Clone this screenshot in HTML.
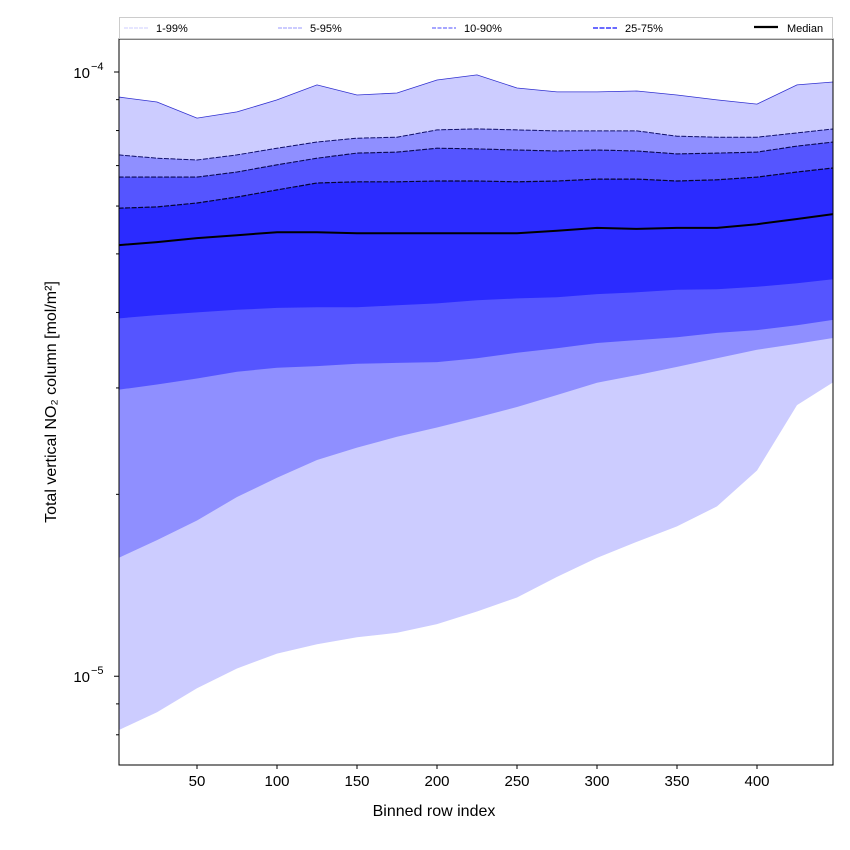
<!DOCTYPE html>
<html><head><meta charset="utf-8"><style>
html,body{margin:0;padding:0;background:#fff;}
svg{display:block;font-family:"Liberation Sans",DejaVu Sans,sans-serif;}
</style></head><body>
<svg id="chart" width="850" height="850" viewBox="0 0 850 850"></svg>
<script>
const rows = [1,25,50,75,100,125,150,175,200,225,250,275,300,325,350,375,400,425,448];
const p99 = [9.09,8.92,8.39,8.59,8.99,9.52,9.16,9.23,9.70,9.89,9.41,9.27,9.27,9.30,9.16,8.99,8.85,9.52,9.63];
const p95 = [7.29,7.20,7.15,7.29,7.48,7.66,7.77,7.80,8.02,8.05,8.02,7.99,7.99,7.99,7.83,7.80,7.80,7.93,8.05];
const p90 = [6.70,6.70,6.70,6.83,7.02,7.20,7.34,7.37,7.48,7.46,7.43,7.40,7.43,7.40,7.32,7.34,7.37,7.54,7.66];
const p75 = [5.95,5.98,6.07,6.21,6.38,6.55,6.58,6.58,6.60,6.60,6.58,6.60,6.65,6.65,6.60,6.63,6.70,6.83,6.94];
const median = [5.17,5.23,5.31,5.37,5.43,5.43,5.41,5.41,5.41,5.41,5.41,5.46,5.52,5.50,5.52,5.52,5.60,5.71,5.82];
const p25 = [3.91,3.96,4.00,4.04,4.07,4.08,4.08,4.11,4.14,4.19,4.22,4.24,4.29,4.32,4.36,4.37,4.41,4.47,4.54];
const p10 = [2.98,3.04,3.11,3.19,3.24,3.26,3.29,3.30,3.31,3.36,3.43,3.49,3.56,3.60,3.64,3.70,3.74,3.81,3.89];
const p5 = [1.57,1.68,1.81,1.98,2.13,2.28,2.39,2.49,2.58,2.68,2.79,2.92,3.06,3.15,3.25,3.36,3.47,3.55,3.63];
const p1 = [0.814,0.872,0.955,1.03,1.09,1.13,1.16,1.18,1.22,1.28,1.35,1.46,1.57,1.67,1.77,1.91,2.19,2.81,3.07];
const xTicks = [50,100,150,200,250,300,350,400];
const yMajor = [1,10];
const yMajorExp = ["\u22125","\u22124"];
const yMinor = [0.8,0.9,2,3,4,5,6,7,8,9];
const SCALE = 1e-5; // values above are in units of 1e-5 mol/m²

const L=119,R=833,T=39,B=765;
const xMin=1.25,xMax=447.5;
const yLo=Math.log10(0.713*SCALE), yHi=Math.log10(11.34*SCALE);
const X=v=>L+(v-xMin)/(xMax-xMin)*(R-L);
const Y=v=>B-(Math.log10(v*SCALE)-yLo)/(yHi-yLo)*(B-T);
const NS="http://www.w3.org/2000/svg";
const svg=document.getElementById('chart');
function mk(tag,attrs,parent){const e=document.createElementNS(NS,tag);for(const k in attrs)e.setAttribute(k,attrs[k]);(parent||svg).appendChild(e);return e;}
const clip=mk('clipPath',{id:'pc'});mk('rect',{x:L,y:T,width:R-L,height:B-T},clip);
const g=mk('g',{'clip-path':'url(#pc)'});


function band(lo,hi,color,name){
  let d='';rows.forEach((r,i)=>{d+=(i?'L':'M')+X(r).toFixed(1)+','+Y(hi[i]).toFixed(1);});
  for(let i=rows.length-1;i>=0;i--)d+='L'+X(rows[i]).toFixed(1)+','+Y(lo[i]).toFixed(1);
  const p=mk('path',{d:d+'Z',fill:color},g);
  
  
}
function line(arr,stroke,w,dash,name){
  let d='';rows.forEach((r,i)=>{d+=(i?'L':'M')+X(r).toFixed(1)+','+Y(arr[i]).toFixed(1);});
  const p=mk('path',{d:d,fill:'none',stroke:stroke,'stroke-width':w,'stroke-dasharray':dash},g);
  
  
}
band(p1,p99,'#ccccff','band-1-99');
band(p5,p95,'#8f8fff','band-5-95');
band(p10,p90,'#5555ff','band-10-90');
band(p25,p75,'#2b2bff','band-25-75');
line(p99,'#3030d0',0.8,'none','line-p99');
line(p95,'#10106a',1,'5,1.5','line-p95');
line(p90,'#0a0a50',1.1,'5,1.5','line-p90');
line(p75,'#050530',1.2,'5,1.5','line-p75');
line(median,'#000',2,'none','median-line');
const frame=mk('rect',{x:L,y:T,width:R-L,height:B-T,fill:'none',stroke:'#000','stroke-width':1});


xTicks.forEach(t=>{
  const x=X(t);
  const tk=mk('line',{x1:x,x2:x,y1:B,y2:B+4,stroke:'#000'});
  
  
  const tx=mk('text',{x:x,y:B+21,'text-anchor':'middle','font-size':15});
  tx.textContent=t;
  
  
});
yMinor.forEach(t=>{
  const y=Y(t);
  const tk=mk('line',{x1:L-3,x2:L,y1:y,y2:y,stroke:'#000'});
  
  
});
yMajor.forEach((t,i)=>{
  const y=Y(t);
  const tk=mk('line',{x1:L-5,x2:L,y1:y,y2:y,stroke:'#000'});
  
  
  const tx=mk('text',{x:L-29,y:y+6,'text-anchor':'end','font-size':15});
  tx.textContent='10';
  
  
  const sup=mk('text',{x:L-28,y:y-2,'text-anchor':'start','font-size':11});
  sup.textContent=yMajorExp[i];
  
  
});
</script>
<svg style="position:absolute;left:0;top:0" width="850" height="850">
<text x="434" y="816" text-anchor="middle" font-size="16" font-family="Liberation Sans, sans-serif">Binned row index</text>
<text transform="translate(56,402) rotate(-90)" text-anchor="middle" font-size="16" font-family="Liberation Sans, sans-serif">Total vertical NO₂ column [mol/m²]</text>
<g font-size="11" font-family="Liberation Sans, sans-serif">
<rect x="119.5" y="17.5" width="713" height="21" fill="#fff" stroke="#ccc"/>
<line x1="124" x2="148" y1="28" y2="28" stroke="#ccccff" stroke-width="1" stroke-dasharray="4,1"/>
<text x="156" y="32">1-99%</text>
<line x1="278" x2="302" y1="28" y2="28" stroke="#9a9aff" stroke-width="1" stroke-dasharray="4,1"/>
<text x="310" y="32">5-95%</text>
<line x1="432" x2="456" y1="28" y2="28" stroke="#7070ff" stroke-width="1.3" stroke-dasharray="4,1.5"/>
<text x="464" y="32">10-90%</text>
<line x1="593" x2="617" y1="28" y2="28" stroke="#5555ff" stroke-width="1.8" stroke-dasharray="5,1.5"/>
<text x="625" y="32">25-75%</text>
<line x1="754" x2="778" y1="27" y2="27" stroke="#000" stroke-width="2.2"/>
<text x="787" y="32">Median</text>
</g>
</svg>
</body></html>
